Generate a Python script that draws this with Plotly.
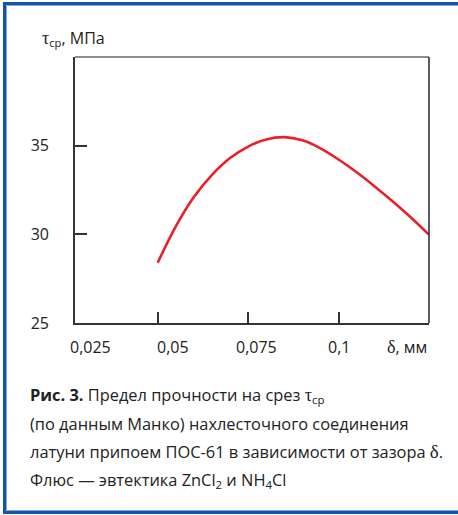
import plotly.graph_objects as go

delta_mm = [0.050, 0.055, 0.060, 0.065, 0.070, 0.075, 0.080, 0.085,
            0.090, 0.095, 0.100, 0.105, 0.110, 0.115, 0.120, 0.125]
tau_mpa = [28.4, 30.45, 32.1, 33.35, 34.3, 34.95, 35.35, 35.48,
           35.3, 34.85, 34.22, 33.5, 32.7, 31.85, 30.95, 29.98]

x_tick_vals = [0.05, 0.075, 0.1]
x_tick_text = ["0,05", "0,075", "0,1"]
y_tick_vals = [25, 30, 35, 40]
y_tick_text = ["25", "30", "35", ""]

W, H = 458, 515
L, R, T, B = 75, 29, 57, 192
PW, PH = W - L - R, H - T - B

def px(x):
    return (x - L) / PW

def py(y):
    return (H - B - y) / PH

TICK_FONT = dict(family="Open Sans", size=16, color="#222222")
CAP_FONT = dict(family="Open Sans", size=16.4, color="#222222")
AX = "#333333"
BLUE = "#1356a6"

fig = go.Figure()
fig.add_trace(go.Scatter(
    x=delta_mm, y=tau_mpa, mode="lines",
    line=dict(color="#e8202a", width=2.6, shape="spline", smoothing=1.0),
    hoverinfo="skip", showlegend=False,
))

fig.update_layout(
    width=W, height=H,
    margin=dict(l=L, r=R, t=T, b=B),
    paper_bgcolor="white", plot_bgcolor="white",
    xaxis=dict(range=[0.02713, 0.125], tickvals=x_tick_vals, ticktext=x_tick_text,
               showticklabels=False, ticks="inside", ticklen=11, tickwidth=1.5,
               tickcolor=AX, showline=True, linecolor=AX, linewidth=1.6,
               showgrid=False, zeroline=False, fixedrange=True),
    yaxis=dict(range=[25, 40], tickvals=y_tick_vals, ticktext=y_tick_text,
               ticks="inside", ticklen=12, tickwidth=1.5, tickcolor=AX,
               showline=True, linecolor=AX, linewidth=1.6,
               tickfont=TICK_FONT, ticklabelstandoff=21,
               showgrid=False, zeroline=False, fixedrange=True),
)

shapes = [
    # top frame (gray) and right frame (dark)
    dict(type="line", xref="paper", yref="paper", x0=0, x1=1, y0=1, y1=1,
         line=dict(color="#6a6a6a", width=1.6)),
    dict(type="line", xref="paper", yref="paper", x0=1, x1=1, y0=0, y1=1,
         line=dict(color=AX, width=1.6)),
    # blue page border
    dict(type="line", xref="paper", yref="paper", x0=px(4.5), x1=px(4.5), y0=py(2), y1=py(514),
         line=dict(color=BLUE, width=3)),
    dict(type="line", xref="paper", yref="paper", x0=px(3), x1=px(470), y0=py(3.5), y1=py(3.5),
         line=dict(color=BLUE, width=3)),
    dict(type="line", xref="paper", yref="paper", x0=px(3), x1=px(470), y0=py(512.5), y1=py(512.5),
         line=dict(color=BLUE, width=3)),
    dict(type="line", xref="paper", yref="paper", x0=px(6.5), x1=px(6.5), y0=py(5.5), y1=py(510.5),
         line=dict(color="#7ea6d6", width=1)),
    dict(type="line", xref="paper", yref="paper", x0=px(6.5), x1=px(470), y0=py(5.5), y1=py(5.5),
         line=dict(color="#7ea6d6", width=1)),
    dict(type="line", xref="paper", yref="paper", x0=px(6.5), x1=px(470), y0=py(510.5), y1=py(510.5),
         line=dict(color="#7ea6d6", width=1)),
]
fig.update_layout(shapes=shapes)

ann = []
# x tick labels
x_label_shift = [15, 8, 0]
for v, t, s in zip(x_tick_vals, x_tick_text, x_label_shift):
    ann.append(dict(x=v, xref="x", y=py(347), yref="paper", text=t, showarrow=False,
                    xanchor="center", yanchor="middle", xshift=s, font=TICK_FONT))
ann.append(dict(x=px(90), xref="paper", y=py(347), yref="paper", text="0,025", showarrow=False,
                xanchor="center", yanchor="middle", font=TICK_FONT))
ann.append(dict(x=px(429), xref="paper", y=py(347), yref="paper",
                text="<span style='font-family:Liberation Serif;font-size:18px'>δ</span>, мм",
                showarrow=False, xanchor="right", yanchor="middle", font=TICK_FONT))
# y axis title
ann.append(dict(x=px(40), xref="paper", y=py(38), yref="paper",
                text="<span style='font-family:Liberation Serif;font-size:18px'>τ</span><sub>ср</sub>, МПа",
                showarrow=False, xanchor="left", yanchor="middle", font=TICK_FONT))

caption = [
    "<b>Рис. 3.</b> Предел прочности на срез <span style='font-family:Liberation Serif;font-size:18px'>τ</span><sub>ср</sub>",
    "(по данным Манко) нахлесточного соединения",
    "латуни припоем ПОС-61 в зависимости от зазора <span style='font-family:Liberation Serif;font-size:19px'>δ</span>.",
    "Флюс — эвтектика ZnCl<sub>2</sub> и NH<sub>4</sub>Cl",
]
cap_y = [395, 423, 452, 480]
for t, yy in zip(caption, cap_y):
    ann.append(dict(x=px(28), xref="paper", y=py(yy), yref="paper", text=t, showarrow=False,
                    xanchor="left", yanchor="middle", font=CAP_FONT))

fig.update_layout(annotations=ann)
fig.write_html("out.html", config={"displayModeBar": False},
               post_script="document.body.style.margin='0px';")
